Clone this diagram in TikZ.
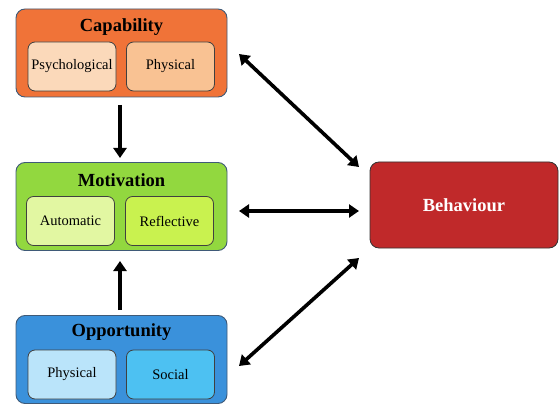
\documentclass[tikz,border=0pt]{standalone}
\usepackage{fontspec}
\setmainfont{Liberation Serif}
\usetikzlibrary{arrows.meta}
\definecolor{capOuter}{HTML}{F07338}
\definecolor{capA}{HTML}{FBD9BA}
\definecolor{capB}{HTML}{F9C293}
\definecolor{motOuter}{HTML}{92D83F}
\definecolor{motA}{HTML}{E2F7A2}
\definecolor{motB}{HTML}{C9F24F}
\definecolor{oppOuter}{HTML}{3A91DB}
\definecolor{oppA}{HTML}{BAE4FA}
\definecolor{oppB}{HTML}{4DC1F2}
\definecolor{behRed}{HTML}{C0292A}
\definecolor{edge}{HTML}{3F5A78}
\tikzset{
  group/.style={draw=edge, line width=0.9pt, rounded corners=9pt, minimum width=211pt, minimum height=88pt, inner sep=0pt},
  sub/.style={draw=black!75, line width=0.8pt, rounded corners=7pt, minimum width=88pt, minimum height=49pt, inner sep=0pt, font=\fontsize{14.5}{17}\selectfont},
  title/.style={font=\fontsize{18.5}{22}\selectfont\bfseries, inner sep=0pt},
  link/.style={line width=3.6pt, {Triangle[length=10pt,width=13pt]}-{Triangle[length=10pt,width=13pt]}},
  uplink/.style={line width=3.6pt, -{Triangle[length=10pt,width=13pt]}}
}
\begin{document}
\begin{tikzpicture}[x=1pt, y=-1pt]
\useasboundingbox (0,0) rectangle (559,406);

% Capability group
\node[group, fill=capOuter] (cap) at (121.5,53) {};
\node[title] (capT) at (121.5,27) {Capability};
\node[sub, fill=capA] (psy) at (72,66.5) {Psychological};
\node[sub, fill=capB] (phy1) at (170.5,66.5) {Physical};

% Motivation group
\node[group, fill=motOuter] (mot) at (121.5,206.5) {};
\node[title] (motT) at (121.5,180) {Motivation};
\node[sub, fill=motA] (aut) at (70.5,221) {Automatic};
\node[sub, fill=motB] (ref) at (169.5,221) {Reflective};

% Opportunity group
\node[group, fill=oppOuter] (opp) at (121.5,359.5) {};
\node[title] (oppT) at (121.5,332) {Opportunity};
\node[sub, fill=oppA] (phy2) at (72,374.5) {Physical};
\node[sub, fill=oppB] (soc) at (170.5,374.5) {Social};

% Behaviour
\node[draw=black!80, line width=0.8pt, rounded corners=9pt, fill=behRed,
      minimum width=188pt, minimum height=86pt, text=white,
      font=\fontsize{18.5}{22}\selectfont\bfseries] (beh) at (464,205) {Behaviour};

% Anchor points for the connectors
\coordinate (c1) at (239,54);
\coordinate (b1) at (359,167);
\coordinate (c2) at (239,211);
\coordinate (b2) at (359,211);
\coordinate (c3) at (239,366);
\coordinate (b3) at (359,258);
\coordinate (capBot) at (120,105);
\coordinate (motTop) at (120,158);
\coordinate (oppTop) at (120,310);
\coordinate (motBot) at (120,261);

\draw[link] (c1) -- (b1);
\draw[link] (c2) -- (b2);
\draw[link] (c3) -- (b3);
\draw[uplink] (capBot) -- (motTop);
\draw[uplink] (oppTop) -- (motBot);
\end{tikzpicture}
\end{document}
